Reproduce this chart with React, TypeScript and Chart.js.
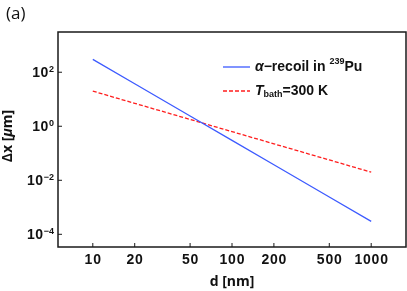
import { useEffect, useRef } from "react";
import Chart from "chart.js/auto";

// d [nm]
const dValues = [10, 20, 50, 100, 200, 500, 1000];
// Δx [μm] for α-recoil in 239Pu
const alphaRecoil = [300, 37.5, 2.4, 0.3, 0.0375, 0.0024, 0.0003];
// Δx [μm] for T_bath = 300 K
const thermal = [20, 7.07, 1.79, 0.632, 0.224, 0.0566, 0.02];

const xTicks = [10, 20, 50, 100, 200, 500, 1000];
const yTickExponents = [-4, -2, 0, 2];

const BLUE = "rgb(60, 90, 255)";
const RED = "rgb(255, 30, 30)";
const FONT = '"Liberation Sans", Arial, sans-serif';
const TFONT = '"Open Sans", "Liberation Sans", sans-serif';

type Seg = { t: string; font: string; dy?: number; ls?: string };

function drawRich(ctx: any, segs: Seg[], x: number, y: number) {
  let cx = x;
  for (const s of segs) {
    ctx.font = s.font;
    ctx.letterSpacing = s.ls || "0px";
    ctx.fillText(s.t, cx, y + (s.dy || 0));
    cx += ctx.measureText(s.t).width;
  }
  ctx.letterSpacing = "0px";
  return cx - x;
}

function richWidth(ctx: any, segs: Seg[]) {
  let w = 0;
  for (const s of segs) {
    ctx.font = s.font;
    ctx.letterSpacing = s.ls || "0px";
    w += ctx.measureText(s.t).width;
  }
  ctx.letterSpacing = "0px";
  return w;
}

const decorPlugin = {
  id: "decor",
  afterDraw(chart: any) {
    const { ctx, chartArea: a, scales } = chart;
    const xs = scales.x;
    const ys = scales.y;
    ctx.save();
    ctx.fillStyle = "#111";
    ctx.strokeStyle = "#1a1a1a";

    // frame
    ctx.lineWidth = 1.5;
    ctx.strokeRect(a.left, a.top, a.right - a.left, a.bottom - a.top);

    // x ticks + labels
    ctx.lineWidth = 1;
    ctx.textBaseline = "middle";
    ctx.textAlign = "left";
    for (const v of xTicks) {
      const px = xs.getPixelForValue(v);
      ctx.beginPath();
      ctx.moveTo(px, a.bottom);
      ctx.lineTo(px, a.bottom - 4);
      ctx.stroke();
      const segs: Seg[] = [{ t: String(v), font: `bold 14px ${FONT}`, ls: "0.8px" }];
      const w = richWidth(ctx, segs) - 0.8;
      drawRich(ctx, segs, px - w / 2, a.bottom + 13);
    }

    // y ticks + labels
    ctx.textAlign = "left";
    ctx.textBaseline = "alphabetic";
    for (const e of yTickExponents) {
      const py = ys.getPixelForValue(Math.pow(10, e));
      ctx.beginPath();
      ctx.moveTo(a.left, py);
      ctx.lineTo(a.left + 4, py);
      ctx.stroke();
      const expText = e < 0 ? "\u2212" + Math.abs(e) : String(e);
      const segs: Seg[] = [
        { t: "10", font: `bold 14px ${FONT}`, ls: "0.6px" },
        { t: expText, font: `bold 9px ${FONT}`, dy: -5 },
      ];
      const w = richWidth(ctx, segs);
      drawRich(ctx, segs, a.left - 4 - w, py + 5);
    }

    // x title
    ctx.textAlign = "center";
    ctx.textBaseline = "middle";
    ctx.font = `bold 14px ${TFONT}`;
    ctx.fillText("d [nm]", (a.left + a.right) / 2, 282);

    // y title
    ctx.save();
    ctx.translate(8, 136);
    ctx.rotate(-Math.PI / 2);
    ctx.textAlign = "left";
    ctx.textBaseline = "middle";
    const ySegs: Seg[] = [
      { t: "\u0394x [", font: `bold 14px ${TFONT}` },
      { t: "\u03bc", font: `italic bold 14px ${TFONT}` },
      { t: "m]", font: `bold 14px ${TFONT}` },
    ];
    const yw = richWidth(ctx, ySegs);
    drawRich(ctx, ySegs, -yw / 2, 0);
    ctx.restore();

    // legend
    ctx.textAlign = "left";
    ctx.textBaseline = "middle";
    const lx0 = 223;
    const lx1 = 250;
    const tx = 255;
    const ly1 = 67;
    const ly2 = 91;
    ctx.lineWidth = 1.3;
    ctx.strokeStyle = BLUE;
    ctx.beginPath();
    ctx.moveTo(lx0, ly1);
    ctx.lineTo(lx1, ly1);
    ctx.stroke();
    ctx.strokeStyle = RED;
    ctx.setLineDash([4, 2]);
    ctx.beginPath();
    ctx.moveTo(lx0, ly2);
    ctx.lineTo(lx1, ly2);
    ctx.stroke();
    ctx.setLineDash([]);
    ctx.fillStyle = "#111";
    drawRich(
      ctx,
      [
        { t: "\u03b1", font: `italic bold 14px ${FONT}` },
        { t: "\u2212recoil in ", font: `bold 14px ${FONT}` },
        { t: "239", font: `bold 9px ${FONT}`, dy: -5 },
        { t: "Pu", font: `bold 14px ${FONT}` },
      ],
      tx,
      ly1
    );
    drawRich(
      ctx,
      [
        { t: "T", font: `italic bold 14px ${FONT}` },
        { t: "bath", font: `bold 9px ${FONT}`, dy: 4 },
        { t: "=300 K", font: `bold 14px ${FONT}` },
      ],
      tx,
      ly2
    );

    // panel label
    ctx.font = `17px ${TFONT}`;
    ctx.textAlign = "left";
    ctx.textBaseline = "middle";
    ctx.fillText("(a)", 6, 14);

    ctx.restore();
  },
};

export default function App() {
  const ref = useRef<HTMLCanvasElement>(null);
  useEffect(() => {
    const canvas = ref.current;
    if (!canvas) return;
    const chart = new Chart(canvas, {
      type: "line",
      data: {
        datasets: [
          {
            label: "α-recoil in 239Pu",
            data: dValues.map((d, i) => ({ x: d, y: alphaRecoil[i] })),
            borderColor: BLUE,
            borderWidth: 1.3,
            pointRadius: 0,
            tension: 0,
          },
          {
            label: "T_bath=300 K",
            data: dValues.map((d, i) => ({ x: d, y: thermal[i] })),
            borderColor: RED,
            borderWidth: 1.3,
            borderDash: [4, 2],
            pointRadius: 0,
            tension: 0,
          },
        ],
      },
      options: {
        animation: false,
        responsive: false,
        layout: { padding: { top: 32, right: 1, left: 0, bottom: 0 } },
        plugins: {
          legend: { display: false },
          tooltip: { enabled: false },
        },
        scales: {
          x: {
            type: "logarithmic",
            min: Math.pow(10, 0.75),
            max: Math.pow(10, 3.25),
            grid: { display: false },
            border: { display: false },
            ticks: { display: false },
            afterFit: (s: any) => {
              s.height = 44;
            },
          },
          y: {
            type: "logarithmic",
            min: Math.pow(10, -4.47),
            max: Math.pow(10, 3.49),
            grid: { display: false },
            border: { display: false },
            ticks: { display: false },
            afterFit: (s: any) => {
              s.width = 58;
            },
          },
        },
      } as any,
      plugins: [decorPlugin],
    });
    return () => chart.destroy();
  }, []);
  return (
    <div style={{ position: "absolute", left: 0, top: 0, width: 407, height: 291, background: "#fff" }}>
      <canvas ref={ref} width={407} height={291} style={{ display: "block" }} />
    </div>
  );
}
